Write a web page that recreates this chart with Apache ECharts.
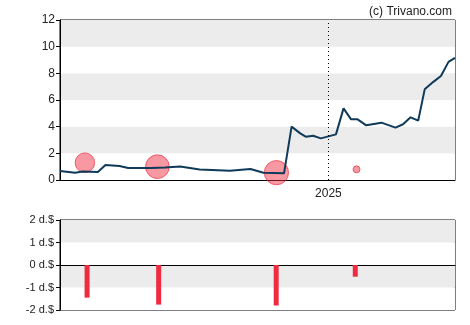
<!DOCTYPE html>
<html>
<head>
<meta charset="utf-8">
<script src="https://cdn.jsdelivr.net/npm/echarts@6/dist/echarts.min.js"></script>
<style>
  html, body { margin: 0; padding: 0; background: #fff; }
  #chart { width: 470px; height: 325px; }
</style>
</head>
<body>
<div id="chart"></div>
<script>
// Share price (weekly-ish closes)
const priceDates = [
  '2024-04-28','2024-05-12','2024-05-19','2024-06-02','2024-06-09','2024-06-22',
  '2024-06-30','2024-07-21','2024-08-03','2024-08-17','2024-09-04','2024-10-02',
  '2024-10-21','2024-11-02','2024-11-21','2024-11-28','2024-12-06','2024-12-11',
  '2024-12-18','2024-12-25','2025-01-08','2025-01-15','2025-01-22','2025-01-28',
  '2025-02-05','2025-02-19','2025-03-04','2025-03-11','2025-03-18','2025-03-25',
  '2025-03-31','2025-04-08','2025-04-15','2025-04-22','2025-04-28'
];
const priceValues = [
  0.68, 0.55, 0.63, 0.60, 1.12, 1.05,
  0.90, 0.90, 0.93, 1.02, 0.78, 0.70,
  0.82, 0.55, 0.50, 4.00, 3.50, 3.25,
  3.32, 3.12, 3.42, 5.37, 4.55, 4.55,
  4.10, 4.30, 3.93, 4.18, 4.70, 4.45,
  6.80, 7.36, 7.80, 8.86, 9.16
];

// Dividend events
const dividendDates = ['2024-05-21', '2024-07-27', '2024-11-14', '2025-01-27'];
const dividendAmounts = [-1.45, -1.76, -1.80, -0.52];
const dividendMarkerLevels = [1.3, 1.0, 0.55, 0.8];

const priceTicks = [0, 2, 4, 6, 8, 10, 12];
const dividendTicks = [-2, -1, 0, 1, 2];
const axisStart = '2024-04-28';
const axisEnd = '2025-04-28';
const yearMark = '2025-01-01';

const chart = echarts.init(document.getElementById('chart'), null, { renderer: 'canvas' });

const font = 'Arial, "Liberation Sans", sans-serif';
const bands = ['#ffffff', '#ececec'];

chart.setOption({
  animation: false,
  backgroundColor: '#ffffff',
  title: {
    text: '(c) Trivano.com',
    right: 13,
    top: 1,
    textStyle: { fontFamily: font, fontSize: 12, fontWeight: 'normal', color: '#222' }
  },
  grid: [
    { left: 60, right: 15, top: 20, height: 160, show: true, borderColor: '#000', borderWidth: 1, backgroundColor: 'transparent' },
    { left: 60, right: 15, top: 220, height: 90, show: true, borderColor: '#000', borderWidth: 1, backgroundColor: 'transparent' }
  ],
  xAxis: [
    {
      type: 'time', gridIndex: 0,
      min: axisStart, max: axisEnd,
      axisLine: { show: true, lineStyle: { color: '#000', width: 1 } },
      axisTick: { show: false },
      splitLine: { show: false },
      axisLabel: {
        color: '#222', fontFamily: font, fontSize: 12, margin: 8,
        showMinLabel: false, showMaxLabel: false,
        formatter: function (v) {
          const d = new Date(v);
          return (d.getMonth() === 0 && d.getDate() === 1) ? String(d.getFullYear()) : '';
        }
      }
    },
    {
      type: 'time', gridIndex: 1,
      min: axisStart, max: axisEnd,
      axisLine: { show: true, onZero: true, lineStyle: { color: '#000', width: 1 } },
      axisTick: { show: false },
      axisLabel: { show: false },
      splitLine: { show: false }
    }
  ],
  yAxis: [
    {
      type: 'value', gridIndex: 0,
      min: priceTicks[0], max: priceTicks[priceTicks.length - 1], interval: 2,
      axisLine: { show: true, lineStyle: { color: '#000' } },
      axisTick: { show: true, length: 4, lineStyle: { color: '#000' } },
      axisLabel: { color: '#222', fontFamily: font, fontSize: 12, margin: 5 },
      splitLine: { show: false },
      splitArea: { show: true, areaStyle: { color: bands } }
    },
    {
      type: 'value', gridIndex: 1,
      min: dividendTicks[0], max: dividendTicks[dividendTicks.length - 1], interval: 1,
      axisLine: { show: true, lineStyle: { color: '#000' } },
      axisTick: { show: true, length: 4, lineStyle: { color: '#000' } },
      axisLabel: {
        color: '#222', fontFamily: font, fontSize: 11, margin: 6,
        formatter: function (v) { return v + ' d.$'; }
      },
      splitLine: { show: false },
      splitArea: { show: true, areaStyle: { color: bands } }
    }
  ],
  series: [
    {
      name: 'Dividend markers',
      type: 'scatter',
      xAxisIndex: 0, yAxisIndex: 0,
      z: 2,
      data: dividendDates.map((d, i) => [d, dividendMarkerLevels[i], dividendAmounts[i]]),
      symbolSize: function (v) { return Math.abs(v[2]) * 13.5; },
      itemStyle: { color: 'rgba(240, 40, 60, 0.6)', borderColor: 'rgba(230, 30, 50, 0.75)', borderWidth: 1 }
    },
    {
      name: 'Price',
      type: 'line',
      xAxisIndex: 0, yAxisIndex: 0,
      z: 3,
      data: priceDates.map((d, i) => [d, priceValues[i]]),
      showSymbol: false,
      symbol: 'none',
      lineStyle: { color: '#0f3a5a', width: 2 },
      markLine: {
        silent: true,
        symbol: 'none',
        label: { show: false },
        lineStyle: { color: '#000', type: [1, 3], width: 1 },
        data: [{ xAxis: yearMark }]
      }
    },
    {
      name: 'Dividends',
      type: 'bar',
      xAxisIndex: 1, yAxisIndex: 1,
      barWidth: 5,
      data: dividendDates.map((d, i) => [d, dividendAmounts[i]]),
      itemStyle: { color: '#ef2b40' }
    }
  ]
});
</script>
</body>
</html>
